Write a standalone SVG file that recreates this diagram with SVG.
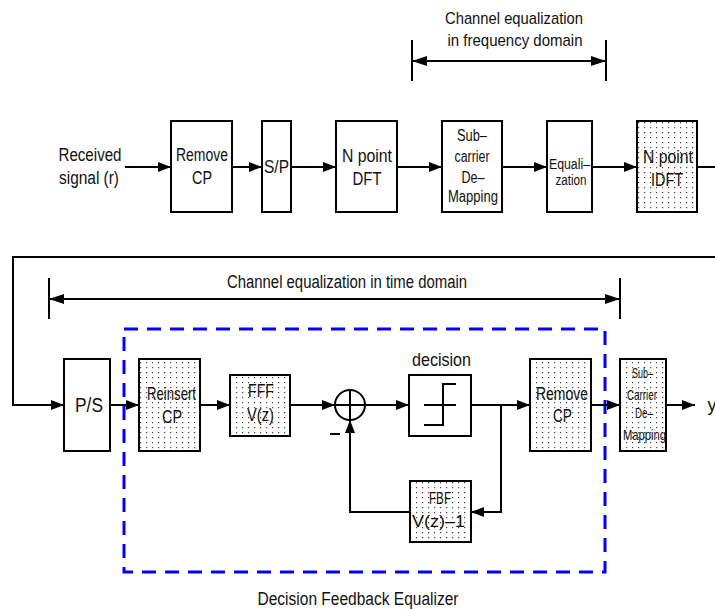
<svg xmlns="http://www.w3.org/2000/svg" width="715" height="609" viewBox="0 0 715 609">
<style>
.bx{fill:#fff;stroke:#000;stroke-width:2}
.dot{fill:url(#dots);stroke:#000;stroke-width:2}
.ln{fill:none;stroke:#000;stroke-width:2}
.ar{fill:none;stroke:#000;stroke-width:2;marker-end:url(#ah)}
.t{font-family:"Liberation Sans",Arial,sans-serif;fill:#111;text-anchor:middle}
</style>
<defs>
<marker id="ah" markerUnits="userSpaceOnUse" markerWidth="14" markerHeight="12" refX="13" refY="5" orient="auto">
<path d="M0,0 L13,5 L0,10 z" fill="#000"/>
</marker>
<marker id="ah2" markerUnits="userSpaceOnUse" markerWidth="16" markerHeight="12" refX="15" refY="5" orient="auto-start-reverse">
<path d="M0,0 L15,5 L0,10 z" fill="#000"/>
</marker>
<pattern id="dots" patternUnits="userSpaceOnUse" width="6" height="5">
<rect width="6" height="5" fill="#fff"/>
<rect x="2" y="2" width="1.2" height="1.2" fill="#444"/>
</pattern>
</defs>

<!-- top bracket -->
<g id="freq-bracket">
<line class="ln" x1="412" y1="40" x2="412" y2="81"/>
<line class="ln" x1="606" y1="40" x2="606" y2="81"/>
<line x1="412" y1="61" x2="606" y2="61" stroke="#000" stroke-width="2" marker-start="url(#ah2)" marker-end="url(#ah2)"/>
<text class="t" x="514" y="24" font-size="17" textLength="138" lengthAdjust="spacingAndGlyphs">Channel equalization</text>
<text class="t" x="515" y="46" font-size="17" textLength="135" lengthAdjust="spacingAndGlyphs">in frequency domain</text>
</g>

<g id="input-label">
<text class="t" x="90" y="161" font-size="18" textLength="63" lengthAdjust="spacingAndGlyphs">Received</text>
<text class="t" x="89" y="184" font-size="18" textLength="60" lengthAdjust="spacingAndGlyphs">signal (r)</text>
</g>

<g id="remove-cp-1">
<rect class="bx" x="171" y="121" width="61" height="91"/>
<text class="t" x="202" y="161" font-size="18" textLength="52" lengthAdjust="spacingAndGlyphs">Remove</text>
<text class="t" x="202" y="184" font-size="18" textLength="20" lengthAdjust="spacingAndGlyphs">CP</text>
</g>
<g id="sp">
<rect class="bx" x="262" y="121" width="29" height="91"/>
<text class="t" x="276.5" y="173" font-size="19" textLength="25" lengthAdjust="spacingAndGlyphs">S/P</text>
</g>
<g id="dft">
<rect class="bx" x="336" y="121" width="61" height="91"/>
<text class="t" x="367" y="162" font-size="18" textLength="50" lengthAdjust="spacingAndGlyphs">N point</text>
<text class="t" x="367" y="185" font-size="18" textLength="29" lengthAdjust="spacingAndGlyphs">DFT</text>
</g>
<g id="subcarrier-demap-1">
<rect class="bx" x="442" y="121" width="60" height="91"/>
<text class="t" x="472" y="141" font-size="16" textLength="30" lengthAdjust="spacingAndGlyphs">Sub–</text>
<text class="t" x="472" y="162" font-size="16" textLength="35" lengthAdjust="spacingAndGlyphs">carrier</text>
<text class="t" x="473" y="183" font-size="16" textLength="23" lengthAdjust="spacingAndGlyphs">De–</text>
<text class="t" x="473" y="202" font-size="16" textLength="50" lengthAdjust="spacingAndGlyphs">Mapping</text>
</g>
<g id="equalization">
<rect class="bx" x="547" y="121" width="45" height="91"/>
<text class="t" x="569.5" y="169" font-size="14" textLength="41" lengthAdjust="spacingAndGlyphs">Equali–</text>
<text class="t" x="571" y="185" font-size="14" textLength="31" lengthAdjust="spacingAndGlyphs">zation</text>
</g>
<g id="idft">
<rect class="dot" x="637" y="121" width="60" height="91"/>
<text class="t" x="668" y="163" font-size="18" textLength="50" lengthAdjust="spacingAndGlyphs">N point</text>
<text class="t" x="667" y="186" font-size="18" textLength="32" lengthAdjust="spacingAndGlyphs">IDFT</text>
</g>

<!-- time bracket -->
<g id="time-bracket">
<line class="ln" x1="49" y1="278" x2="49" y2="319"/>
<line class="ln" x1="620" y1="278" x2="620" y2="319"/>
<line x1="49" y1="299" x2="620" y2="299" stroke="#000" stroke-width="2" marker-start="url(#ah2)" marker-end="url(#ah2)"/>
<text class="t" x="347" y="288" font-size="18" textLength="240" lengthAdjust="spacingAndGlyphs">Channel equalization in time domain</text>
</g>

<g id="dfe-frame">
<rect x="124" y="329" width="481" height="243" fill="none" stroke="#0000ff" stroke-width="3" stroke-dasharray="14 9"/>
<text class="t" x="358" y="605" font-size="18" textLength="201" lengthAdjust="spacingAndGlyphs">Decision Feedback Equalizer</text>
</g>

<g id="ps">
<rect class="bx" x="64" y="359" width="46" height="92"/>
<text class="t" x="89" y="412" font-size="20" textLength="28" lengthAdjust="spacingAndGlyphs">P/S</text>
</g>
<g id="reinsert-cp">
<rect class="dot" x="139" y="359" width="61" height="92"/>
<text class="t" x="171.5" y="400" font-size="19" textLength="49" lengthAdjust="spacingAndGlyphs">Reinsert</text>
<text class="t" x="172" y="423" font-size="19" textLength="20" lengthAdjust="spacingAndGlyphs">CP</text>
</g>
<g id="fff">
<rect class="dot" x="230" y="375" width="60" height="61"/>
<text class="t" x="261" y="397" font-size="18" textLength="26" lengthAdjust="spacingAndGlyphs">FFF</text>
<text class="t" x="260.5" y="421" font-size="18" textLength="27" lengthAdjust="spacingAndGlyphs">V(z)</text>
</g>
<g id="sum">
<circle cx="350" cy="405" r="15" fill="#fff" stroke="#000" stroke-width="2"/>
<line class="ln" x1="335" y1="405" x2="365" y2="405"/>
<line class="ln" x1="350" y1="390" x2="350" y2="420"/>
<line class="ln" x1="330" y1="434" x2="340" y2="434" stroke-width="1.5"/>
</g>
<g id="decision">
<rect class="bx" x="409" y="375" width="62" height="61"/>
<path class="ln" d="M456,384 H443 V425 H424 M424,405 H456"/>
<text class="t" x="441.5" y="366" font-size="18" textLength="59" lengthAdjust="spacingAndGlyphs">decision</text>
</g>
<g id="remove-cp-2">
<rect class="dot" x="530" y="359" width="61" height="92"/>
<text class="t" x="562" y="400" font-size="18" textLength="52" lengthAdjust="spacingAndGlyphs">Remove</text>
<text class="t" x="562.5" y="422" font-size="18" textLength="19" lengthAdjust="spacingAndGlyphs">CP</text>
</g>
<g id="subcarrier-demap-2">
<rect class="dot" x="620" y="359" width="46" height="92"/>
<text class="t" x="642.5" y="378" font-size="15" textLength="21" lengthAdjust="spacingAndGlyphs">Sub–</text>
<text class="t" x="642" y="400" font-size="15" textLength="30" lengthAdjust="spacingAndGlyphs">Carrier</text>
<text class="t" x="644" y="418" font-size="15" textLength="18" lengthAdjust="spacingAndGlyphs">De–</text>
<text class="t" x="644.5" y="440" font-size="15" textLength="43" lengthAdjust="spacingAndGlyphs">Mapping</text>
</g>
<g id="output-label">
<text class="t" x="712" y="411" font-size="18">y</text>
</g>
<g id="fbf">
<rect class="dot" x="410" y="481" width="61" height="61"/>
<text class="t" x="440" y="504" font-size="16" textLength="22" lengthAdjust="spacingAndGlyphs">FBF</text>
<text class="t" x="438.5" y="527" font-size="17" textLength="53" lengthAdjust="spacingAndGlyphs">V(z)–1</text>
</g>

<g id="connectors">
<line class="ar" x1="125" y1="167" x2="171" y2="167"/>
<line class="ar" x1="232" y1="167" x2="262" y2="167"/>
<line class="ar" x1="291" y1="167" x2="336" y2="167"/>
<line class="ar" x1="397" y1="167" x2="442" y2="167"/>
<line class="ar" x1="502" y1="167" x2="547" y2="167"/>
<line class="ar" x1="592" y1="167" x2="637" y2="167"/>
<line class="ln" x1="697" y1="167" x2="715" y2="167"/>
<path class="ar" d="M715,257 H13 V405 H64"/>
<line class="ar" x1="110" y1="405" x2="139" y2="405"/>
<line class="ar" x1="200" y1="405" x2="230" y2="405"/>
<line class="ar" x1="290" y1="405" x2="335" y2="405"/>
<line class="ar" x1="365" y1="405" x2="409" y2="405"/>
<line class="ar" x1="471" y1="405" x2="530" y2="405"/>
<path class="ar" d="M501,405 V512 H471"/>
<path class="ar" d="M410,512 H350 V420"/>
<line class="ar" x1="591" y1="405" x2="620" y2="405"/>
<line class="ar" x1="666" y1="405" x2="695" y2="405"/>
</g>
</svg>
